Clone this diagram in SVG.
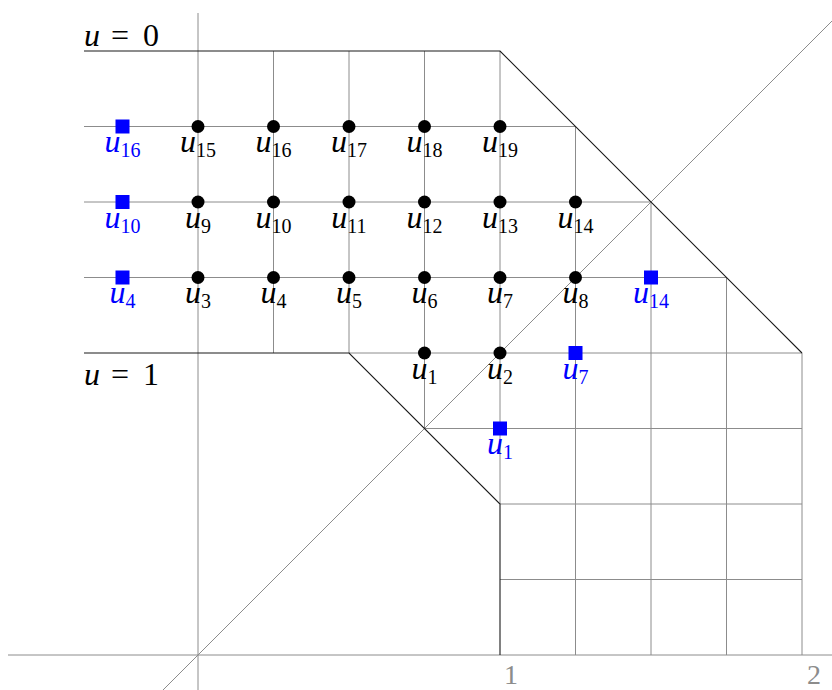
<svg xmlns="http://www.w3.org/2000/svg" width="832" height="690" viewBox="0 0 832 690">
<style>
.g{fill:none;stroke:#8c8c8c;stroke-width:1}
.b{fill:none;stroke:#1a1a1a;stroke-width:1.1}
.t{font-family:"Liberation Serif","DejaVu Serif",serif;font-size:32px;fill:#000}
.blue{fill:#0000ff}
.i{font-style:italic}
.s{font-size:20px;font-style:normal}
.ax{font-family:"Liberation Serif","DejaVu Serif",serif;font-size:28px;fill:#8c8c8c}
</style>
<defs>
<circle id="dot" r="6.5" fill="#000"/>
<rect id="sq" x="-7" y="-7" width="14" height="14" fill="#0000ff"/>
</defs>
<g id="connectors">
<path class="g" d="M8 655H832M198 13V690M163 690L832 21"/>
<path class="g" d="M84 126.5H575.5M84 202H651M84 277.5H726.5M349 353H802M424.5 428.5H802M500 504H802M500 579.5H802"/>
<path class="g" d="M273.5 51V353M349 51V353M424.5 51V428.5M500 51V504M575.5 126.5V655M651 202V655M726.5 277.5V655M802 353V655"/>
<path class="b" d="M84 51H500L802 353" stroke="#555"/>
<path class="b" d="M84 353H349L500 504V655"/>
</g>
<g id="boundary-labels">
<text class="t" y="46"><tspan x="84" class="i">u</tspan><tspan x="111">=</tspan><tspan x="143">0</tspan></text>
<text class="t" y="385"><tspan x="84" class="i">u</tspan><tspan x="111">=</tspan><tspan x="143">1</tspan></text>
<text class="ax" x="511" y="684" text-anchor="middle">1</text>
<text class="ax" x="814" y="684" text-anchor="middle">2</text>
</g>
<g id="n15"><use href="#dot" x="198" y="126.5"/><text class="t" x="198" y="152" text-anchor="middle"><tspan class="i">u</tspan><tspan class="s" dy="5">15</tspan></text></g>
<g id="n16"><use href="#dot" x="273.5" y="126.5"/><text class="t" x="273.5" y="152" text-anchor="middle"><tspan class="i">u</tspan><tspan class="s" dy="5">16</tspan></text></g>
<g id="n17"><use href="#dot" x="349" y="126.5"/><text class="t" x="349" y="152" text-anchor="middle"><tspan class="i">u</tspan><tspan class="s" dy="5">17</tspan></text></g>
<g id="n18"><use href="#dot" x="424.5" y="126.5"/><text class="t" x="424.5" y="152" text-anchor="middle"><tspan class="i">u</tspan><tspan class="s" dy="5">18</tspan></text></g>
<g id="n19"><use href="#dot" x="500" y="126.5"/><text class="t" x="500" y="152" text-anchor="middle"><tspan class="i">u</tspan><tspan class="s" dy="5">19</tspan></text></g>
<g id="n9"><use href="#dot" x="198" y="202"/><text class="t" x="198" y="227.5" text-anchor="middle"><tspan class="i">u</tspan><tspan class="s" dy="5">9</tspan></text></g>
<g id="n10"><use href="#dot" x="273.5" y="202"/><text class="t" x="273.5" y="227.5" text-anchor="middle"><tspan class="i">u</tspan><tspan class="s" dy="5">10</tspan></text></g>
<g id="n11"><use href="#dot" x="349" y="202"/><text class="t" x="349" y="227.5" text-anchor="middle"><tspan class="i">u</tspan><tspan class="s" dy="5">11</tspan></text></g>
<g id="n12"><use href="#dot" x="424.5" y="202"/><text class="t" x="424.5" y="227.5" text-anchor="middle"><tspan class="i">u</tspan><tspan class="s" dy="5">12</tspan></text></g>
<g id="n13"><use href="#dot" x="500" y="202"/><text class="t" x="500" y="227.5" text-anchor="middle"><tspan class="i">u</tspan><tspan class="s" dy="5">13</tspan></text></g>
<g id="n14"><use href="#dot" x="575.5" y="202"/><text class="t" x="575.5" y="227.5" text-anchor="middle"><tspan class="i">u</tspan><tspan class="s" dy="5">14</tspan></text></g>
<g id="n3"><use href="#dot" x="198" y="277.5"/><text class="t" x="198" y="303" text-anchor="middle"><tspan class="i">u</tspan><tspan class="s" dy="5">3</tspan></text></g>
<g id="n4"><use href="#dot" x="273.5" y="277.5"/><text class="t" x="273.5" y="303" text-anchor="middle"><tspan class="i">u</tspan><tspan class="s" dy="5">4</tspan></text></g>
<g id="n5"><use href="#dot" x="349" y="277.5"/><text class="t" x="349" y="303" text-anchor="middle"><tspan class="i">u</tspan><tspan class="s" dy="5">5</tspan></text></g>
<g id="n6"><use href="#dot" x="424.5" y="277.5"/><text class="t" x="424.5" y="303" text-anchor="middle"><tspan class="i">u</tspan><tspan class="s" dy="5">6</tspan></text></g>
<g id="n7"><use href="#dot" x="500" y="277.5"/><text class="t" x="500" y="303" text-anchor="middle"><tspan class="i">u</tspan><tspan class="s" dy="5">7</tspan></text></g>
<g id="n8"><use href="#dot" x="575.5" y="277.5"/><text class="t" x="575.5" y="303" text-anchor="middle"><tspan class="i">u</tspan><tspan class="s" dy="5">8</tspan></text></g>
<g id="n1"><use href="#dot" x="424.5" y="353"/><text class="t" x="424.5" y="378.5" text-anchor="middle"><tspan class="i">u</tspan><tspan class="s" dy="5">1</tspan></text></g>
<g id="n2"><use href="#dot" x="500" y="353"/><text class="t" x="500" y="378.5" text-anchor="middle"><tspan class="i">u</tspan><tspan class="s" dy="5">2</tspan></text></g>
<g id="b16"><use href="#sq" x="122.5" y="126.5"/><text class="t blue" x="122.5" y="152" text-anchor="middle"><tspan class="i">u</tspan><tspan class="s" dy="5">16</tspan></text></g>
<g id="b10"><use href="#sq" x="122.5" y="202"/><text class="t blue" x="122.5" y="227.5" text-anchor="middle"><tspan class="i">u</tspan><tspan class="s" dy="5">10</tspan></text></g>
<g id="b4"><use href="#sq" x="122.5" y="277.5"/><text class="t blue" x="122.5" y="303" text-anchor="middle"><tspan class="i">u</tspan><tspan class="s" dy="5">4</tspan></text></g>
<g id="b14"><use href="#sq" x="651" y="277.5"/><text class="t blue" x="651" y="303" text-anchor="middle"><tspan class="i">u</tspan><tspan class="s" dy="5">14</tspan></text></g>
<g id="b7"><use href="#sq" x="575.5" y="353"/><text class="t blue" x="575.5" y="378.5" text-anchor="middle"><tspan class="i">u</tspan><tspan class="s" dy="5">7</tspan></text></g>
<g id="b1"><use href="#sq" x="500" y="428.5"/><text class="t blue" x="500" y="454" text-anchor="middle"><tspan class="i">u</tspan><tspan class="s" dy="5">1</tspan></text></g>
</svg>
